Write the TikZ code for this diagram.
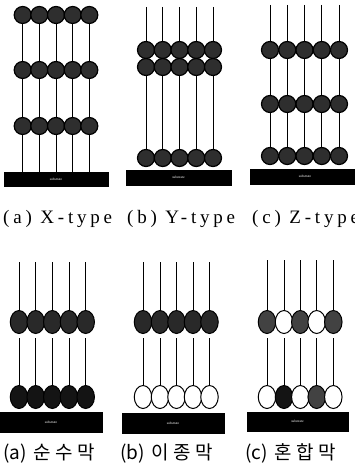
\documentclass[tikz,border=0pt]{standalone}
\usepackage{fontspec}
\setmainfont{Liberation Serif}
\newfontfamily\labelfont[LetterSpace=20]{Liberation Serif}
\newfontfamily\kfont{Noto Sans CJK KR}
\usetikzlibrary{shapes.geometric}

\tikzset{
  bead/.style={circle, draw=black, line width=1.2pt, fill=black!82,
    minimum size=17pt, inner sep=0pt},
  obead/.style={ellipse, draw=black, line width=1pt, minimum width=17.5pt,
    minimum height=23pt, inner sep=0pt},
  dbead/.style={obead, fill=black!92},
  mbead/.style={obead, fill=black!84},
  gbead/.style={obead, fill=black!74},
  wbead/.style={obead, fill=white},
  chain/.style={line width=1pt, line cap=butt},
  substrate/.style={rectangle, fill=black, draw=black, inner sep=0pt,
    text=white, font=\fontsize{3.5}{4}\selectfont},
  toplabel/.style={anchor=base west, inner sep=0pt,
    font=\labelfont\fontsize{19}{19}\selectfont},
  kolabel/.style={anchor=base west, inner sep=0pt,
    font=\kfont\fontsize{19}{19}\selectfont},
}

\begin{document}
\begin{tikzpicture}[x=1pt, y=-1pt]
\useasboundingbox (0,0) rectangle (354,476);

% ---------- X-type: three evenly spaced layers ----------
\node[substrate, minimum width=104pt, minimum height=14pt] (xs) at (56,179) {substrate};
\foreach \i/\x in {1/22.7,2/39.3,3/56,4/72.7,5/89.3}{
  \node[bead] (xa\i) at (\x,15) {};
  \node[bead] (xb\i) at (\x,70) {};
  \node[bead] (xc\i) at (\x,126) {};
  \draw[chain] (xa\i) -- (xb\i);
  \draw[chain] (xb\i) -- (xc\i);
  \draw[chain] (xc\i) -- (xc\i |- xs.north);
}
\node[toplabel] (xl) at (3,223) {(a) X-type};

% ---------- Y-type: head-to-head pairs ----------
\node[substrate, minimum width=105pt, minimum height=15pt] (ys) at (178.5,177.5) {substrate};
\foreach \i/\x in {1/146,2/162.75,3/179.5,4/196.25,5/213}{
  \coordinate (yt\i) at (\x,7);
  \node[bead] (ya\i) at (\x,50) {};
  \node[bead] (yb\i) at (\x,67) {};
  \node[bead] (yc\i) at (\x,158) {};
  \draw[chain] (yt\i) -- (ya\i);
  \draw[chain] (yb\i) -- (yc\i);
}
\node[toplabel] (yl) at (127,223) {(b) Y-type};

% ---------- Z-type: tail-to-head stacking ----------
\node[substrate, minimum width=110pt, minimum height=15pt] (zs) at (305,176.5) {substrate};
\foreach \i/\x in {1/270,2/287.25,3/304.5,4/321.75,5/339}{
  \coordinate (zt\i) at (\x,5);
  \node[bead] (za\i) at (\x,50) {};
  \node[bead] (zb\i) at (\x,104) {};
  \node[bead] (zc\i) at (\x,156) {};
  \draw[chain] (zt\i) -- (za\i);
  \draw[chain] (za\i) -- (zb\i);
  \draw[chain] (zb\i) -- (zc\i);
}
\node[toplabel] (zl) at (252,223) {(c) Z-type};

% ---------- 순수막: identical layers ----------
\node[substrate, minimum width=102pt, minimum height=20pt] (ps) at (51,422) {substrate};
\foreach \i/\x in {1/19,2/35.7,3/52.3,4/69,5/85.7}{
  \coordinate (pt\i) at (\x,262);
  \node[mbead] (pa\i) at (\x,322) {};
  \node[dbead] (pb\i) at (\x,397) {};
  \draw[chain] (pt\i) -- (pa\i);
  \draw[chain] ([yshift=-4pt]pa\i.south) -- (pb\i);
}
\node[kolabel] (pl) at (3,459) {(a)\hspace{7pt}순\hspace{4pt}수\hspace{5pt}막};

% ---------- 이종막: different upper and lower layers ----------
\node[substrate, minimum width=102pt, minimum height=20pt] (hs) at (173,423) {substrate};
\foreach \i/\x in {1/143,2/160,3/176.5,4/193,5/209.5}{
  \coordinate (ht\i) at (\x,262);
  \node[mbead] (ha\i) at (\x,322) {};
  \node[wbead] (hb\i) at (\x,397) {};
  \draw[chain] (ht\i) -- (ha\i);
  \draw[chain] ([yshift=-4pt]ha\i.south) -- (hb\i);
}
\node[kolabel] (hl) at (120,459) {(b)\hspace{7pt}이\hspace{4pt}종\hspace{5pt}막};

% ---------- 혼합막: alternating mixed layers ----------
\node[substrate, minimum width=101pt, minimum height=19pt] (ms) at (297.5,421.5) {substrate};
\foreach \i/\x/\up/\lo in {1/267/gbead/wbead,2/284/wbead/dbead,3/300.3/gbead/wbead,4/316.7/wbead/gbead,5/333.3/gbead/wbead}{
  \coordinate (mt\i) at (\x,260);
  \node[\up] (ma\i) at (\x,322) {};
  \node[\lo] (mb\i) at (\x,397) {};
  \draw[chain] (mt\i) -- (ma\i);
  \draw[chain] ([yshift=-4pt]ma\i.south) -- (mb\i);
}
\node[kolabel] (ml) at (245,459) {(c)\hspace{7pt}혼\hspace{4pt}합\hspace{5pt}막};

\end{tikzpicture}
\end{document}
